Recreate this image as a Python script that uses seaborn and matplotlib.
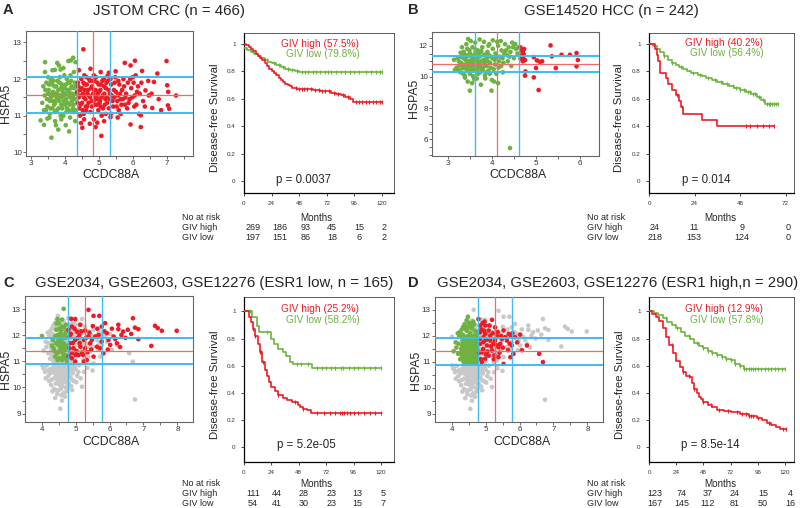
import numpy as np
import pandas as pd
import matplotlib
matplotlib.use('Agg')
import matplotlib.pyplot as plt
import seaborn as sns

RED = '#ED1C24'
GREEN = '#6DB33F'
GRAY = '#C8C8C8'
BLUE = '#3FBDF0'
RLINE = '#F06A6E'

# ---------------- scatter data (CCDC88A, HSPA5) ----------------
a_low = [(3.45,11.9),(3.52,11.7),(3.58,11.5),(3.62,11.85),(3.68,11.3),(3.72,11.6),(3.78,11.95),(3.83,11.4),
         (3.88,11.75),(3.92,11.2),(3.97,11.55),(4.02,11.85),(4.08,11.35),(4.12,11.65),(4.18,11.95),(4.22,11.45),
         (4.27,11.75),(4.30,11.15),(3.40,11.55),(3.48,11.25),(3.55,11.05),(3.60,12.0),(3.65,11.65),(3.70,11.1),
         (3.75,11.45),(3.80,11.7),(3.85,12.05),(3.90,11.5),(3.95,11.0),(4.00,11.6),(4.05,12.0),(4.10,11.15),
         (4.15,11.5),(4.20,11.8),(4.25,11.3),(4.31,11.6),(3.36,11.8),(3.44,11.15),(3.50,12.05),(3.56,11.4),
         (3.63,11.2),(3.74,11.8),(3.81,11.2),(3.87,11.0),(3.94,11.8),(4.00,11.3),(4.07,11.7),(4.13,11.9),
         (4.19,11.1),(4.24,11.55),(4.29,11.9),(3.66,11.95),(3.77,11.6),(3.98,12.1),(4.16,12.1),(3.41,12.46),
         (3.77,12.44),(3.82,12.37),(4.10,12.49),(4.17,12.51),(4.24,12.58),(4.31,12.46),(3.41,12.19),(3.63,12.24),
         (3.87,12.26),(4.26,12.19),(3.28,10.87),(3.48,10.92),(3.73,10.74),(3.80,10.62),(4.02,10.74),(4.12,10.57),
         (3.60,10.40),(3.38,11.15),(3.33,11.35),(4.26,11.10),(3.42,11.7),(3.47,11.45),(3.53,11.85),(3.57,11.2),
         (3.61,11.6),(3.64,11.4),(3.69,11.8),(3.71,11.35),(3.76,11.15),(3.79,11.5),(3.84,11.9),(3.86,11.55),
         (3.89,11.3),(3.91,11.85),(3.96,11.4),(3.99,11.75),(4.03,11.45),(4.06,11.2),(4.09,11.9),(4.11,11.55),
         (4.14,11.3),(4.17,11.75),(4.21,11.6),(4.23,11.2),(4.28,11.45),(4.32,11.8),(3.50,11.6),(3.58,11.95),
         (3.68,11.55),(3.93,11.65),(4.04,11.1),(4.20,11.4),(3.54,10.95),(3.71,10.85),(3.89,10.9),(4.15,10.95),
         (4.30,10.85),(3.38,10.75),(3.95,12.3),(3.70,12.25)]
a_high = [(4.54,12.81),(6.99,12.49),(6.06,12.50),(5.76,12.44),(6.27,12.22),(6.72,12.15),(6.62,11.92),(7.01,11.83),
          (7.27,11.55),(7.04,11.65),(6.76,11.45),(6.57,11.21),(6.83,11.15),(7.03,11.28),(7.07,11.19),(6.18,11.05),
          (6.23,11.01),(5.93,10.76),(6.23,10.69),(5.07,10.45),(4.51,10.67),(4.73,10.78),(4.90,10.69),(4.95,10.81),
          (5.15,10.85),(4.56,10.90),(5.34,10.96),(5.64,11.05),(6.47,11.55),(6.37,11.69),(5.93,12.37),(5.05,12.19),
          (5.29,12.17),(5.49,12.21),(4.41,12.24),(4.75,12.28),(4.38,11.9),(4.40,11.5),(4.42,11.2),(4.45,11.7),
          (4.48,12.0),(4.50,11.35),(4.53,11.6),(4.55,11.05),(4.58,11.85),(4.60,11.45),(4.63,12.05),(4.65,11.25),
          (4.68,11.7),(4.70,11.55),(4.73,11.95),(4.75,11.1),(4.78,11.4),(4.80,11.8),(4.83,11.6),(4.85,12.1),
          (4.88,11.3),(4.90,11.7),(4.93,11.5),(4.95,11.9),(4.98,11.15),(5.00,11.65),(5.03,11.4),(5.06,11.85),
          (5.08,11.0),(5.11,11.55),(5.14,12.0),(5.17,11.3),(5.20,11.75),(5.23,11.5),(5.26,11.95),(5.29,11.2),
          (5.32,11.6),(5.36,11.85),(5.40,11.4),(5.44,11.7),(5.48,12.05),(5.52,11.25),(5.56,11.55),(5.60,11.85),
          (5.64,11.45),(5.68,11.7),(5.72,12.0),(5.76,11.3),(5.80,11.6),(5.85,11.9),(5.90,11.45),(5.95,11.75),
          (6.00,12.05),(6.05,11.55),(6.10,11.3),(6.15,11.8),(4.44,11.0),(4.62,11.15),(4.87,11.95),(5.05,11.25),
          (5.35,11.05),(5.58,11.15),(5.83,11.2),(6.02,11.9),(4.36,11.65),(4.95,11.45),(5.15,11.8),(5.45,11.5),
          (5.70,11.45),(6.20,11.6),(6.30,11.4),(4.57,12.1),(5.25,12.08),(6.08,12.1),(4.37,11.35),(4.39,11.8),
          (4.43,11.55),(4.46,11.3),(4.49,11.75),(4.52,11.15),(4.54,11.9),(4.56,11.5),(4.59,11.7),(4.61,11.25),
          (4.64,11.85),(4.66,11.6),(4.69,11.35),(4.71,12.0),(4.74,11.5),(4.76,11.75),(4.79,11.25),(4.81,11.95),
          (4.84,11.4),(4.86,11.7),(4.89,11.5),(4.91,12.05),(4.94,11.3),(4.96,11.6),(4.99,11.85),(5.02,11.35),
          (5.04,11.7),(5.07,11.5),(5.10,11.95),(5.12,11.2),(5.16,11.6),(5.19,11.45),(5.22,11.9),(5.24,11.35),
          (5.28,11.7),(5.31,11.45),(5.34,12.0),(5.38,11.55),(5.42,11.25),(5.46,11.9),(5.50,11.65),(5.54,11.4),
          (5.57,11.95),(5.62,11.6),(5.66,11.3),(5.74,11.8),(5.78,11.5),(5.87,11.35),(5.92,12.0),(5.98,11.5),
          (6.04,11.25),(6.12,11.65),(6.25,11.9),(6.35,11.25),(6.45,11.95),(6.55,11.6),(4.47,10.8),(4.85,10.9),
          (5.20,11.05),(5.55,10.95)]

b_low = [(3.20,10.6),(3.25,11.0),(3.28,10.3),(3.30,11.3),(3.33,10.8),(3.36,11.6),(3.38,10.1),(3.40,11.1),
         (3.42,10.5),(3.44,11.8),(3.46,10.9),(3.48,11.4),(3.50,10.2),(3.52,10.7),(3.54,11.2),(3.56,11.9),
         (3.58,10.4),(3.60,11.0),(3.62,11.5),(3.64,10.6),(3.66,9.9),(3.68,11.7),(3.70,10.9),(3.72,11.3),
         (3.74,10.3),(3.76,11.0),(3.78,11.9),(3.80,10.6),(3.82,11.4),(3.84,10.1),(3.86,11.1),(3.88,10.7),
         (3.90,11.6),(3.92,10.4),(3.94,12.1),(3.96,10.9),(3.98,11.3),(4.00,9.8),(4.02,11.8),(4.04,10.5),
         (4.06,11.1),(4.08,11.5),(4.10,10.2),(4.14,12.0),(4.18,11.3),(4.22,11.7),(4.26,10.9),(4.30,12.1),
         (4.34,11.4),(4.38,11.9),(4.42,11.6),(4.46,12.2),(4.50,11.2),(4.55,11.8),(4.58,11.5),(4.61,11.9),
         (3.35,10.2),(3.45,9.7),(3.55,9.6),(3.65,10.8),(3.75,9.5),(3.85,9.9),(3.95,10.2),(4.05,9.7),
         (4.15,10.6),(4.25,10.3),(3.22,11.2),(3.32,11.9),(3.42,12.1),(3.52,12.3),(3.62,12.2),(3.72,12.4),
         (3.82,12.25),(3.92,12.0),(4.02,12.35),(4.12,12.25),(4.20,12.3),(4.28,11.5),(4.36,11.0),(4.44,10.7),
         (3.14,11.1),(3.16,10.46),(3.46,12.43),(3.99,9.12),(3.50,9.12),(4.14,9.6),(4.41,5.44),(3.57,10.05),
         (3.67,11.45),(3.79,10.45),(3.89,11.25),(3.47,10.65),(3.37,11.45),(3.27,10.75),(3.45,11.0),(3.55,10.8),
         (3.65,11.2),(3.50,11.5),(3.60,10.5),(3.70,10.6),(3.40,10.8),(3.58,11.3),(3.68,10.2),(3.48,10.35),
         (3.63,11.75),(3.53,11.05),(3.73,11.55),(3.43,11.3),(3.33,10.55),(3.30,10.9),(3.35,11.2),(3.38,10.6),
         (3.41,11.4),(3.44,10.4),(3.47,11.0),(3.49,11.7),(3.51,10.5),(3.54,10.95),(3.56,11.35),(3.59,10.7),
         (3.61,11.15),(3.64,11.6),(3.66,10.45),(3.69,11.0),(3.71,11.35),(3.73,10.75),(3.76,11.65),(3.78,10.5),
         (3.81,11.1),(3.83,10.85),(3.86,11.45),(3.88,10.3),(3.91,11.0),(3.93,11.4),(3.97,10.6),(4.01,11.2),
         (4.07,10.8),(4.11,11.3),(4.16,11.0),(4.21,10.7),(4.24,11.2),(4.32,11.7),(4.40,11.3),(4.48,11.9),
         (4.53,12.1),(3.24,10.45),(3.29,11.55),(3.39,9.95),(3.60,9.85)]
b_high = [(4.65,11.89),(4.73,11.79),(4.70,11.59),(4.67,11.38),(4.71,11.25),(4.65,11.17),(4.75,11.08),(4.70,11.0),
          (4.76,10.35),(4.75,10.08),(4.95,11.27),(5.02,11.06),(5.09,10.97),(5.14,11.0),(5.00,10.57),(4.95,9.97),
          (5.06,9.16),(5.33,12.02),(5.36,11.32),(5.45,10.57),(5.58,11.42),(5.77,11.42),(5.92,11.53),(5.95,11.08),
          (5.92,10.68),(4.68,11.7),(4.72,11.45)]

# GSE2034/GSE2603/GSE12276: ESR1-low subset (c_), ESR1-high subset (d_), below HSPA5 cut (cd_other)
c_low = [(4.65,13.01),(4.01,11.97),(4.30,11.60),(4.47,12.62),(4.50,12.46),(4.60,12.33),(4.43,12.21),(4.55,12.08),
         (4.40,11.95),(4.50,11.82),(4.65,11.69),(4.35,11.50),(4.45,11.31),(4.58,11.44),(4.70,11.24),(4.52,11.12),
         (4.75,10.99),(4.40,11.18),(4.68,11.56),(4.62,11.88),(4.73,12.14),(4.33,11.82),(4.48,11.65),(4.56,11.75),
         (4.62,11.35),(4.70,11.9),(4.67,12.3),(4.52,12.25),(4.42,11.7),(4.60,11.05),(4.74,11.6),(4.55,11.45),
         (4.72,12.4),(4.45,12.0),(4.58,12.2),(4.63,11.55),(4.69,11.45),(4.50,11.35),(4.38,11.4),(4.55,11.95),
         (4.66,11.95),(4.71,11.1),(4.47,11.05),(4.60,12.6),(4.44,12.45),(4.68,12.05),(4.53,11.6),(4.64,11.2)]
c_high = [(5.38,12.97),(4.87,12.63),(4.99,12.62),(5.53,12.74),(5.70,12.74),(5.87,12.46),(5.77,12.33),(6.26,12.40),
          (6.26,12.23),(6.69,12.65),(6.75,12.29),(6.85,12.23),(6.54,12.21),(7.34,12.36),(7.42,12.27),(7.54,12.17),
          (7.98,12.17),(7.23,11.59),(6.85,11.85),(6.64,12.05),(6.35,12.01),(6.12,11.95),(6.02,11.63),(6.22,11.69),
          (5.82,11.31),(5.53,11.18),(5.33,11.05),(5.24,10.99),(4.99,10.99),(4.89,11.12),(5.09,11.24),(5.63,11.56),
          (5.48,11.82),(5.28,12.18),(5.14,12.40),(4.89,12.33),(4.82,11.95),(4.99,11.82),(5.11,12.01),(5.25,11.82),
          (4.94,11.50),(5.14,11.56),(5.28,11.50),(5.38,11.95),(5.68,12.01),(5.92,12.08),(5.97,11.82),(4.84,11.69),
          (5.04,12.14),(5.43,11.69),(4.89,11.31),(5.19,11.33),(4.79,12.21),(5.77,11.76),(6.40,12.14),(4.82,11.5),
          (4.86,12.05),(4.92,11.7),(4.97,12.25),(5.02,11.4),(5.06,11.9),(5.12,11.7),(5.17,12.15),(5.22,11.25),
          (5.31,11.9),(5.35,11.35),(5.41,12.1),(5.46,11.45),(5.51,12.35),(5.58,11.95),(5.64,12.25),(5.72,11.5),
          (5.85,12.15),(5.95,11.45),(6.07,12.25),(6.17,11.85),(6.31,11.55),(6.47,11.9),(4.80,11.2),(5.00,11.25)]
d_low = [(4.48,12.74),(4.06,11.41),(4.19,11.31),(4.12,11.75),(4.22,12.0),(4.30,12.25),(4.38,12.45),(4.44,12.6),
         (4.52,12.5),(4.60,12.35),(4.68,12.2),(4.74,12.05),(4.25,11.1),(4.28,11.5),(4.32,11.8),(4.35,11.0),
         (4.38,11.3),(4.40,11.65),(4.42,11.95),(4.45,12.2),(4.47,11.1),(4.50,11.45),(4.52,11.8),(4.55,12.1),
         (4.57,11.0),(4.58,11.3),(4.60,11.6),(4.62,11.9),(4.64,11.15),(4.66,11.45),(4.68,11.75),(4.70,11.0),
         (4.72,11.3),(4.74,11.6),(4.76,11.85),(4.77,11.1),(4.30,11.25),(4.34,11.55),(4.37,11.85),(4.41,11.15),
         (4.44,11.4),(4.46,11.7),(4.49,12.0),(4.51,11.25),(4.54,11.55),(4.56,11.85),(4.59,11.15),(4.61,11.4),
         (4.63,11.7),(4.65,12.0),(4.67,11.25),(4.69,11.55),(4.71,11.85),(4.73,12.15),(4.75,11.4),(4.77,11.7),
         (4.20,11.7),(4.24,12.15),(4.33,12.05),(4.43,11.55),(4.53,11.05),(4.63,10.95),(4.73,10.95),(4.45,10.95),
         (4.35,11.4),(4.58,12.3),(4.66,12.45),(4.40,12.3),(4.27,11.35),(4.31,11.65),(4.36,11.15),(4.39,11.5),
         (4.43,11.8),(4.46,11.25),(4.48,11.55),(4.50,11.9),(4.53,11.35),(4.55,11.65),(4.57,11.95),(4.59,11.5),
         (4.62,11.1),(4.64,11.55),(4.66,11.85),(4.68,11.4),(4.70,11.65),(4.72,12.0),(4.74,11.2),(4.76,11.5),
         (4.34,12.35),(4.47,12.35),(4.56,12.45),(4.64,12.55),(4.14,11.55),(4.18,12.1),(4.28,11.95),(4.39,11.0),
         (4.51,10.95),(4.69,11.1)]
d_high = [(4.79,12.65),(4.91,12.49),(5.19,12.62),(4.99,12.40),(5.28,12.33),(5.53,12.21),(5.75,12.01),(6.02,12.05),
          (6.22,11.63),(6.58,11.31),(6.69,10.99),(5.82,11.31),(5.73,11.18),(5.53,10.92),(5.38,11.18),(4.89,10.99),
          (4.99,11.12),(5.19,11.44),(5.38,11.56),(5.63,11.82),(5.87,11.95),(5.09,12.21),(4.84,12.14),(4.94,11.95),
          (5.14,11.82),(5.33,12.01),(5.48,11.88),(4.84,11.69),(5.04,11.63),(5.23,11.69),(4.89,11.37),(5.09,11.24),
          (5.28,11.82),(5.68,12.08),(4.84,12.40),(4.99,12.08),(5.14,12.01),(5.43,11.69),(4.84,11.88),(4.94,11.76),
          (5.77,11.63),(4.81,11.35),(4.86,11.1),(4.88,12.25),(4.93,11.5),(4.97,12.55),(5.02,11.85),(5.06,11.4),
          (5.11,12.4),(5.16,11.6),(5.21,12.1),(5.26,11.25),(5.31,11.65),(5.36,12.15),(5.41,11.35),(5.46,12.0),
          (5.51,11.55),(5.58,11.95),(5.66,11.45),(5.71,11.7),(5.79,12.1),(5.93,11.75),(6.07,11.45),(5.01,11.3),
          (4.95,12.2),(5.24,11.1)]
cd_other = [(4.05,10.75),(4.10,10.6),(4.15,10.85),(4.20,10.45),(4.25,10.7),(4.30,10.3),(4.35,10.8),(4.38,10.55),
            (4.42,10.15),(4.45,10.65),(4.48,10.4),(4.50,9.9),(4.52,10.8),(4.55,10.25),(4.57,10.6),(4.60,10.05),
            (4.62,10.75),(4.64,10.45),(4.66,9.8),(4.68,10.2),(4.70,10.65),(4.72,10.35),(4.74,10.85),(4.76,9.95),
            (4.78,10.5),(4.80,10.15),(4.82,10.7),(4.85,10.4),(4.88,10.8),(4.92,10.55),(4.95,10.25),(5.00,10.7),
            (5.05,10.45),(5.10,10.85),(5.19,10.03),(5.25,10.6),(4.55,9.19),(6.75,9.54),(4.40,9.6),(4.60,9.5),
            (4.32,9.85),(4.28,10.1),(4.36,9.95),(4.44,10.35),(4.52,10.5),(4.63,10.3),(4.67,10.55),(4.71,10.0),
            (4.75,10.25),(4.83,10.6),(4.87,10.05),(4.97,10.8),(5.15,10.35),(5.35,10.75),(5.50,10.65),(4.01,10.86),
            (4.06,10.73),(4.46,9.75),(4.58,9.7),(4.69,9.65),(4.53,10.1),(4.65,10.6),(4.48,10.7),(4.78,10.75),
            (4.22,10.25),(4.26,10.55),(4.33,10.65),(4.37,10.35),(4.41,10.8),(4.43,10.5),(4.47,10.2),(4.49,10.6),
            (4.51,10.3),(4.54,10.75),(4.56,10.45),(4.59,10.15),(4.61,10.55),(4.64,10.8),(4.66,10.35),(4.69,10.75),
            (4.71,10.45),(4.73,10.6),(4.77,10.15),(4.81,10.4),(4.84,10.85),(4.89,10.3),(4.93,10.7),(5.02,10.2),
            (5.08,10.6),(4.12,10.35),(4.18,10.65),(4.57,9.95),(4.62,9.75),(4.74,9.85),(4.43,9.9),(4.90,9.9)]

# cut-off lines (blue, red, blue)
a_vlines, a_hlines = [4.34, 4.83, 5.33], [11.06, 11.56, 12.06]
b_vlines, b_hlines = [3.61, 4.11, 4.62], [10.32, 10.82, 11.31]
cd_vlines, cd_hlines = [4.78, 5.28, 5.77], [10.89, 11.40, 11.90]

# ---------------- Kaplan-Meier data (months, survival) ----------------
km_a_high_t = [0,2,4,6,8,10,12,14,16,18,20,22,24,26,28,30,32,34,36,38,40,42,44,46,60,66,72,76,80,84,88,92,95]
km_a_high_s = [1.0,0.99,0.975,0.96,0.945,0.93,0.91,0.895,0.88,0.86,0.84,0.82,0.80,0.785,0.77,0.755,0.74,0.725,
               0.71,0.70,0.69,0.68,0.675,0.67,0.665,0.66,0.655,0.645,0.635,0.625,0.61,0.595,0.575]
km_a_high_cens = [45,48,50,52,55,58,62,65,68,70,74,78,82,86,90,97,100,103,106,109,112,115,118,120]
km_a_low_t = [0,3,6,9,12,15,18,21,24,28,32,36,40,44,48]
km_a_low_s = [0.97,0.955,0.94,0.925,0.91,0.895,0.88,0.87,0.86,0.85,0.835,0.82,0.81,0.80,0.798]
km_a_low_cens = [20,26,30,34,38,42,46,50,53,56,60,63,66,70,73,76,80,84,88,92,96,100,106,110,115,118,120]

km_b_high_t = [0,3,4,5,6,9,10,12,14,16,17,18,28,36]
km_b_high_s = [1.0,0.96,0.92,0.875,0.79,0.75,0.71,0.665,0.625,0.585,0.54,0.49,0.447,0.402]
km_b_high_cens = [15,17.5,51,53,57,60,63,66]
km_b_low_t = [0,2,4,6,8,10,12,14,16,18,20,22,24,26,28,30,33,36,39,42,45,48,51,54,57,59,61]
km_b_low_s = [1.0,0.985,0.965,0.94,0.91,0.885,0.86,0.845,0.83,0.815,0.80,0.79,0.785,0.775,0.765,0.755,0.74,
              0.725,0.71,0.695,0.68,0.665,0.65,0.635,0.615,0.59,0.565]
km_b_low_cens = [8,12,17,23,27,31,35,38,41,44,46,48,50,52,53,55,56,58,60,62,63,64,65,66,67,68]

km_c_high_t = [0,4,6,8,10,12,14,16,18,20,22,24,27,30,34,38,42,47,49,52,55,59]
km_c_high_s = [1.0,0.96,0.92,0.87,0.82,0.76,0.70,0.63,0.57,0.52,0.48,0.445,0.41,0.38,0.36,0.345,0.333,0.31,
               0.29,0.28,0.27,0.252]
km_c_high_cens = [8,10,14,15,17,30,45,52,64,70,75,80,84,86,88,90,93,96,100,105,110,115,120]
km_c_low_t = [0,7,11,13,24,26,30,34,37,40,43,60]
km_c_low_s = [1.0,0.96,0.89,0.85,0.80,0.76,0.72,0.70,0.67,0.63,0.61,0.582]
km_c_low_cens = [5,20,46,50,56,64,68,72,76,80,85,87,92,96,100,105,110,115,120]

km_d_high_t = [0,3,6,9,12,15,18,21,24,27,30,33,36,38,40,42,44,46,48,52,56,60,66,72,80,88,95,100,104,108,112,116]
km_d_high_s = [1.0,0.985,0.96,0.93,0.88,0.81,0.75,0.69,0.635,0.59,0.55,0.525,0.515,0.47,0.43,0.395,0.37,0.35,
               0.333,0.31,0.29,0.272,0.262,0.255,0.24,0.225,0.215,0.195,0.175,0.16,0.145,0.129]
km_d_high_cens = [20,30,35,40,48,55,62,70,78,82,86,88,90,92,96,106,118,121]
km_d_low_t = [0,4,8,12,16,20,24,28,32,36,40,44,48,52,56,60,64,68,72,76,80,84]
km_d_low_s = [1.0,0.99,0.975,0.95,0.925,0.90,0.877,0.85,0.82,0.795,0.77,0.745,0.728,0.71,0.695,0.68,0.665,
              0.65,0.64,0.615,0.595,0.578]
km_d_low_cens = [15,25,35,42,48,52,56,60,64,68,72,76,80,84,86,88,90,92,94,96,99,102,105,108,111,114,117,120]

risk_a_high, risk_a_low = [269,186,93,45,15,2], [197,151,86,18,6,2]
risk_b_high, risk_b_low = [24,11,9,0], [218,153,124,0]
risk_c_high, risk_c_low = [111,44,28,23,13,5], [54,41,30,23,15,7]
risk_d_high, risk_d_low = [123,74,37,24,15,4], [167,145,112,81,50,16]

sns.set_style('ticks')
plt.rcParams['font.family'] = ['Liberation Sans', 'DejaVu Sans']

W, H = 800, 508
fig = plt.figure(figsize=(8, 5.08), dpi=100)


def box(l, t, r, b):
    return fig.add_axes([l / W, 1 - b / H, (r - l) / W, (b - t) / H])


def ftext(x, y, s, **kw):
    kw.setdefault('ha', 'center')
    kw.setdefault('va', 'center')
    fig.text(x / W, 1 - y / H, s, **kw)


def scatter_panel(ax, gray, low, high, vlines, hlines, xlim, ylim, xticks, yticks):
    parts = [pd.DataFrame(p, columns=['CCDC88A', 'HSPA5']).assign(grp=g)
             for p, g in [(gray, 'other'), (low, 'low'), (high, 'high')] if len(p)]
    df = pd.concat(parts, ignore_index=True)
    sns.scatterplot(data=df, x='CCDC88A', y='HSPA5', hue='grp',
                    palette={'other': GRAY, 'low': GREEN, 'high': RED},
                    s=11, linewidth=0, legend=False, ax=ax, zorder=2)
    for i, v in enumerate(vlines):
        ax.axvline(v, color=RLINE if i == 1 else BLUE, lw=0.9 if i == 1 else 1.0, zorder=3)
    for i, v in enumerate(hlines):
        ax.axhline(v, color=RLINE if i == 1 else BLUE, lw=0.9 if i == 1 else 1.4, zorder=3)
    ax.set_xlim(xlim)
    ax.set_ylim(ylim)
    ax.set_xticks(xticks)
    ax.set_yticks(yticks)
    ax.set_xticks(np.arange(xlim[0] // 0.5 * 0.5 + 0.5, xlim[1], 0.5), minor=True)
    ax.set_yticks(np.arange(ylim[0] // 0.5 * 0.5 + 0.5, ylim[1], 0.5), minor=True)
    ax.set_xlabel('')
    ax.set_ylabel('')
    ax.tick_params(which='both', labelsize=5.8, length=2, width=0.6, pad=1, colors='#555555',
                   labelcolor='#333333')
    for sp in ax.spines.values():
        sp.set_visible(True)
        sp.set_color('#666666')
        sp.set_linewidth(0.8)


def km_panel(ax, curves, xmax, xticks, ylim):
    for t, s, cens, col in curves:
        t = np.array(t, dtype=float)
        s = np.array(s)
        end = max(cens)
        ax.step(np.append(t, end), np.append(s, s[-1]), where='post', color=col, lw=1.2, zorder=3)
        idx = np.searchsorted(t, cens, side='right') - 1
        ax.plot(cens, s[idx], ls='none', marker='|', ms=3.5, mew=0.8, color=col, zorder=4)
    ax.set_xlim(0, xmax)
    ax.set_ylim(ylim)
    ax.set_xticks(xticks)
    ax.set_yticks([0, 0.2, 0.4, 0.6, 0.8, 1.0])
    ax.set_yticklabels(['0', '0.2', '0.4', '0.6', '0.8', '1'])
    ax.tick_params(labelsize=4.5, length=2, width=0.6, pad=4, labelcolor='#333333')
    for name, sp in ax.spines.items():
        sp.set_visible(True)
        sp.set_color('black' if name in ('left', 'bottom') else '#444444')
        sp.set_linewidth(0.9 if name in ('left', 'bottom') else 0.6)


# ---------------- scatter panels ----------------
ax_a = box(26, 31, 193, 156)
scatter_panel(ax_a, [], a_low, a_high, a_vlines, a_hlines, (2.85, 7.77), (9.9, 13.31),
              [3, 4, 5, 6, 7], [10, 11, 12, 13])
ax_b = box(432, 32, 599, 156)
scatter_panel(ax_b, [], b_low, b_high, b_vlines, b_hlines, (2.64, 6.43), (4.93, 12.88),
              [3, 4, 5, 6], [6, 8, 10, 12])
ax_c = box(25, 296, 193, 422)
scatter_panel(ax_c, d_low + d_high + cd_other, c_low, c_high, cd_vlines, cd_hlines,
              (3.51, 8.46), (8.68, 13.5), [4, 5, 6, 7, 8], [9, 10, 11, 12, 13])
ax_d = box(435, 297, 603, 422)
scatter_panel(ax_d, c_low + c_high + cd_other, d_low, d_high, cd_vlines, cd_hlines,
              (3.51, 8.46), (8.68, 13.5), [4, 5, 6, 7, 8], [9, 10, 11, 12, 13])

# ---------------- KM panels ----------------
km_a = box(244, 33, 394, 193)
km_panel(km_a, [(km_a_low_t, km_a_low_s, km_a_low_cens, GREEN),
                (km_a_high_t, km_a_high_s, km_a_high_cens, RED)],
         130.4, [0, 24, 48, 72, 96, 120], (-0.088, 1.08))
km_b = box(649, 33, 794, 193)
km_panel(km_b, [(km_b_low_t, km_b_low_s, km_b_low_cens, GREEN),
                (km_b_high_t, km_b_high_s, km_b_high_cens, RED)],
         76.4, [0, 24, 48, 72], (-0.088, 1.08))
km_c = box(244, 297, 394, 462)
km_panel(km_c, [(km_c_low_t, km_c_low_s, km_c_low_cens, GREEN),
                (km_c_high_t, km_c_high_s, km_c_high_cens, RED)],
         131.4, [0, 24, 48, 72, 96, 120], (-0.113, 1.107))
km_d = box(649, 297, 794, 462)
km_panel(km_d, [(km_d_low_t, km_d_low_s, km_d_low_cens, GREEN),
                (km_d_high_t, km_d_high_s, km_d_high_cens, RED)],
         128, [0, 24, 48, 72, 96, 120], (-0.113, 1.107))

# ---------------- texts ----------------
ftext(3, 10, 'A', ha='left', fontsize=10.5, fontweight='bold')
ftext(408, 10, 'B', ha='left', fontsize=10.5, fontweight='bold')
ftext(3, 283, 'C', ha='left', fontsize=10.5, fontweight='bold')
ftext(408, 283, 'D', ha='left', fontsize=10.5, fontweight='bold')

ftext(93, 11, 'JSTOM CRC (n = 466)', ha='left', fontsize=10.8)
ftext(524, 11, 'GSE14520 HCC (n = 242)', ha='left', fontsize=10.8)
ftext(35, 283, 'GSE2034, GSE2603, GSE12276 (ESR1 low, n = 165)', ha='left', fontsize=10.8)
ftext(437, 283, 'GSE2034, GSE2603, GSE12276 (ESR1 high,n = 290)', ha='left', fontsize=10.8)

for x, y in [(6, 103), (414, 98), (6, 369), (416, 370)]:
    ftext(x, y, 'HSPA5', rotation=90, fontsize=8.8)
for x, y in [(111, 175), (518, 175), (111, 442), (522, 442)]:
    ftext(x, y, 'CCDC88A', fontsize=8.8)
for x, y in [(215, 118), (619, 118), (215, 385), (620, 385)]:
    ftext(x, y, 'Disease-free Survival', rotation=90, fontsize=8.2)

legends = [(320, 44, 54, '57.5%', '79.8%'), (724, 43, 53, '40.2%', '56.4%'),
           (320, 309, 320, '25.2%', '58.2%'), (724, 309, 320, '12.9%', '57.8%')]
for x, y1, y2, ph, pl in legends:
    ftext(x, y1, f'GIV high ({ph})', color=RED, fontsize=7.3)
    ftext(x + 3, y2, f'GIV low ({pl})', color=GREEN, fontsize=7.3)

for x, y, s in [(304, 180, 'p = 0.0037'), (706, 180, 'p = 0.014'),
                (306, 445, 'p = 5.2e-05'), (710, 445, 'p = 8.5e-14')]:
    ftext(x, y, s, fontsize=8.3)

tables = [(182, 316, 217, [253, 280, 306, 332, 359, 384], risk_a_high, risk_a_low),
          (587, 720, 217, [655, 694, 742, 788], risk_b_high, risk_b_low),
          (182, 316, 483, [253, 277, 304, 332, 357, 383], risk_c_high, risk_c_low),
          (587, 720, 483, [655, 682, 708, 735, 763, 790], risk_d_high, risk_d_low)]
for xl, xm, y0, xs, hi, lo in tables:
    ftext(xl, y0, 'No at risk', ha='left', fontsize=6.5)
    ftext(xm, y0 + 1, 'Months', fontsize=7.1)
    ftext(xl, y0 + 11, 'GIV high', ha='left', fontsize=6.5)
    ftext(xl, y0 + 21, 'GIV low', ha='left', fontsize=6.5)
    for x, h, l in zip(xs, hi, lo):
        ftext(x, y0 + 11, str(h), fontsize=6.5)
        ftext(x, y0 + 21, str(l), fontsize=6.5)

fig.savefig('out.png', dpi=100)
